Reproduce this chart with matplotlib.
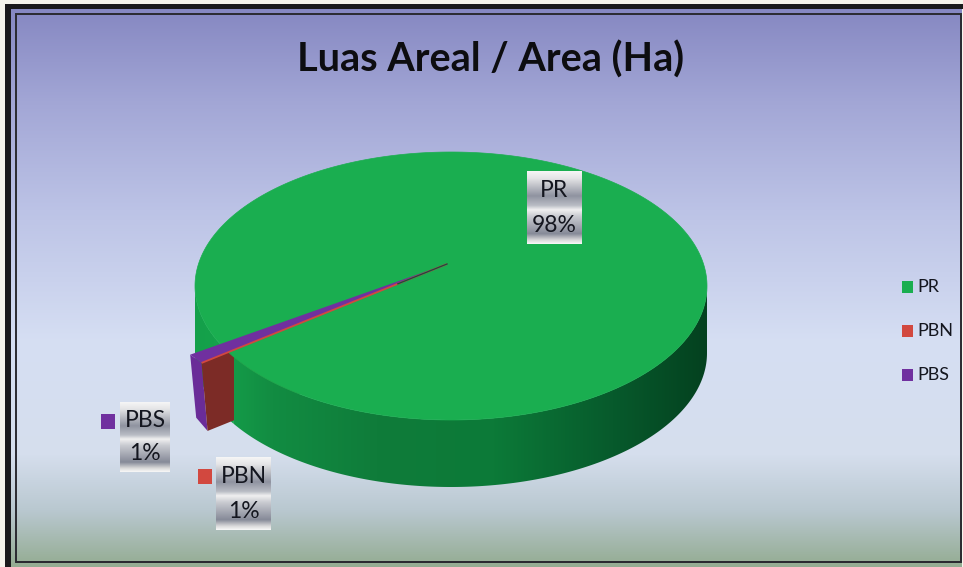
import numpy as np
import matplotlib
matplotlib.use("Agg")
import matplotlib.pyplot as plt
from matplotlib.colors import LinearSegmentedColormap
from matplotlib.patches import Polygon, Rectangle

names = ["PR", "PBN", "PBS"]
shares = [98, 1, 1]
colors = ["#1aae50", "#d2483f", "#70309f"]
title = "Luas Areal / Area (Ha)"

W, H = 963, 567
plt.rcParams["font.family"] = ["Lato", "DejaVu Sans"]

# pie geometry in image pixels
CX, CY, RX, RY = 451, 286, 256, 134
DEPTH = 67
APEX = (447, 264)
SLICE_R = 1.21      # pulled out slices reach past the green rim
START = 146         # degrees, y pointing down
GREEN_CUT = 148


def grad(ax, box, stops, horizontal=False, clip=None, zorder=1):
    cmap = LinearSegmentedColormap.from_list("g", stops)
    ramp = np.linspace(0, 1, 256)
    ramp = ramp[None, :] if horizontal else ramp[:, None]
    x0, x1, y0, y1 = box
    im = ax.imshow(ramp, extent=(x0, x1, y1, y0), cmap=cmap, aspect="auto", zorder=zorder)
    if clip is not None:
        im.set_clip_path(clip)
    return im


def rim(t1, t2, n=200):
    t = np.radians(np.linspace(t1, t2, n))
    return np.column_stack([CX + RX * np.cos(t), CY + RY * np.sin(t)])


def wall(ax, t1, t2, stops, zorder):
    top = rim(t1, t2)
    poly = Polygon(np.vstack([top, (top + [0, DEPTH])[::-1]]), closed=True,
                   fc="none", ec="none", transform=ax.transData)
    ax.add_patch(poly)
    grad(ax, (top[:, 0].min(), top[:, 0].max(), CY, CY + RY + DEPTH + 2), stops,
         horizontal=True, clip=poly, zorder=zorder)


def outer(angle):
    a = np.radians(angle)
    return np.array([APEX[0] + SLICE_R * RX * np.cos(a), APEX[1] + SLICE_R * RY * np.sin(a)])


def metal_label(ax, x0, y0, x1, y1, lines, size):
    stops = [(0, "#f6f6f6"), (0.1, "#e4e4e6"), (0.34, "#8f93a0"), (0.47, "#b9bcc4"), (0.53, "#f0f0f0"),
             (0.62, "#c9cbd1"), (0.86, "#868a98"), (0.95, "#dcdcdc"), (1, "#f8f8f8")]
    grad(ax, (x0, x1, y0, y1), stops, zorder=8)
    mid = (x0 + x1) / 2
    h = y1 - y0
    ax.text(mid, y0 + h * 0.27, lines[0], ha="center", va="center", fontsize=size, color="#14161f", zorder=9)
    ax.text(mid, y0 + h * 0.74, lines[1], ha="center", va="center", fontsize=size, color="#14161f", zorder=9)


fig = plt.figure(figsize=(W / 100, H / 100), dpi=100, facecolor="#f6f4ec")
ax = fig.add_axes([0, 0, 1, 1])
ax.set_xlim(0, W)
ax.set_ylim(H, 0)
ax.axis("off")

# panel background and frame
bg = [(0, "#8688c2"), (0.17, "#a3a7d6"), (0.36, "#bcc3e6"), (0.6, "#d6dff3"), (0.8, "#d5deed"),
      (0.9, "#b9c8d0"), (1, "#94ac92")]
grad(ax, (11, 962, 9, 567), bg, zorder=0)
ax.add_patch(Rectangle((5, 4), 6, H - 4, fc="#1b1a1c", ec="none", zorder=1))
ax.add_patch(Rectangle((5, 4), W - 5, 5, fc="#1b1a1c", ec="none", zorder=1))
ax.add_patch(Rectangle((15.5, 14), 945.5, 548, fc="none", ec="#2a2a30", lw=1.4, zorder=1))
ax.add_patch(Rectangle((15.5, 561), 945.5, 2, fc="#2a2a30", ec="none", zorder=1))

# green side wall, left of the cut and then right of it
wall(ax, 180, GREEN_CUT, ["#14a04a", "#16a44c"], 2)

a_pbs = START
a_pbn = a_pbs - 360 * shares[2] / sum(shares)
p0, p1 = outer(a_pbs), outer(a_pbn)
skew = np.array([6, DEPTH + 1])

# purple rim and red cut face, hidden further in by the green
ax.add_patch(Polygon([p0, p1, p1 + skew, p0 + skew - [0, 5]], fc="#6a2c98", ec="none", zorder=3))
apex = np.array(APEX, float)
ax.add_patch(Polygon([p1, apex, apex + skew, p1 + skew], fc="#7c2b26", ec="none", zorder=3))

wall(ax, GREEN_CUT, 0,
     [(0, "#149a48"), (0.08, "#128c42"), (0.3, "#0f7c3a"), (0.55, "#0c7a38"), (0.8, "#075a2c"), (1, "#04411f")], 4)

# top faces
top = Polygon(rim(0, 360, 400), closed=True, fc=colors[0], ec=colors[0], lw=0.5, zorder=5)
ax.add_patch(top)
ax.add_patch(Polygon([apex, p0, p1], fc=colors[2], ec="none", zorder=6))
ax.plot([apex[0], p1[0]], [apex[1], p1[1]], color=colors[1], lw=1.3, zorder=6, solid_capstyle="butt")
tip = apex + (p1 - apex) * 0.2
ax.plot([apex[0], tip[0]], [apex[1], tip[1]], color="#1c4f40", lw=1.0, zorder=7)

ax.text(491, 60, title, ha="center", va="center", fontsize=28.5, fontweight="bold", color="#0d0d10", zorder=9)

# data labels
boxes = {"PR": (527, 171, 582, 244), "PBN": (216, 457, 271, 530), "PBS": (120, 402, 170, 472)}
for name, share in zip(names, shares):
    x0, y0, x1, y1 = boxes[name]
    metal_label(ax, x0, y0, x1, y1, [name, f"{share}%"], 16.5)

keys = {"PBN": (198, 469), "PBS": (101, 414)}
for name, color in zip(names, colors):
    if name in keys:
        ax.add_patch(Rectangle(keys[name], 14, 15, fc=color, ec="none", zorder=9))

# legend
for name, color, y in zip(names, colors, (287, 331, 374.5)):
    ax.add_patch(Rectangle((902, y - 6), 11, 12, fc=color, ec="none", zorder=9))
    ax.text(917, y, name, ha="left", va="center", fontsize=13, color="#14161f", zorder=9)

fig.savefig("out.png", dpi=100, facecolor=fig.get_facecolor())
